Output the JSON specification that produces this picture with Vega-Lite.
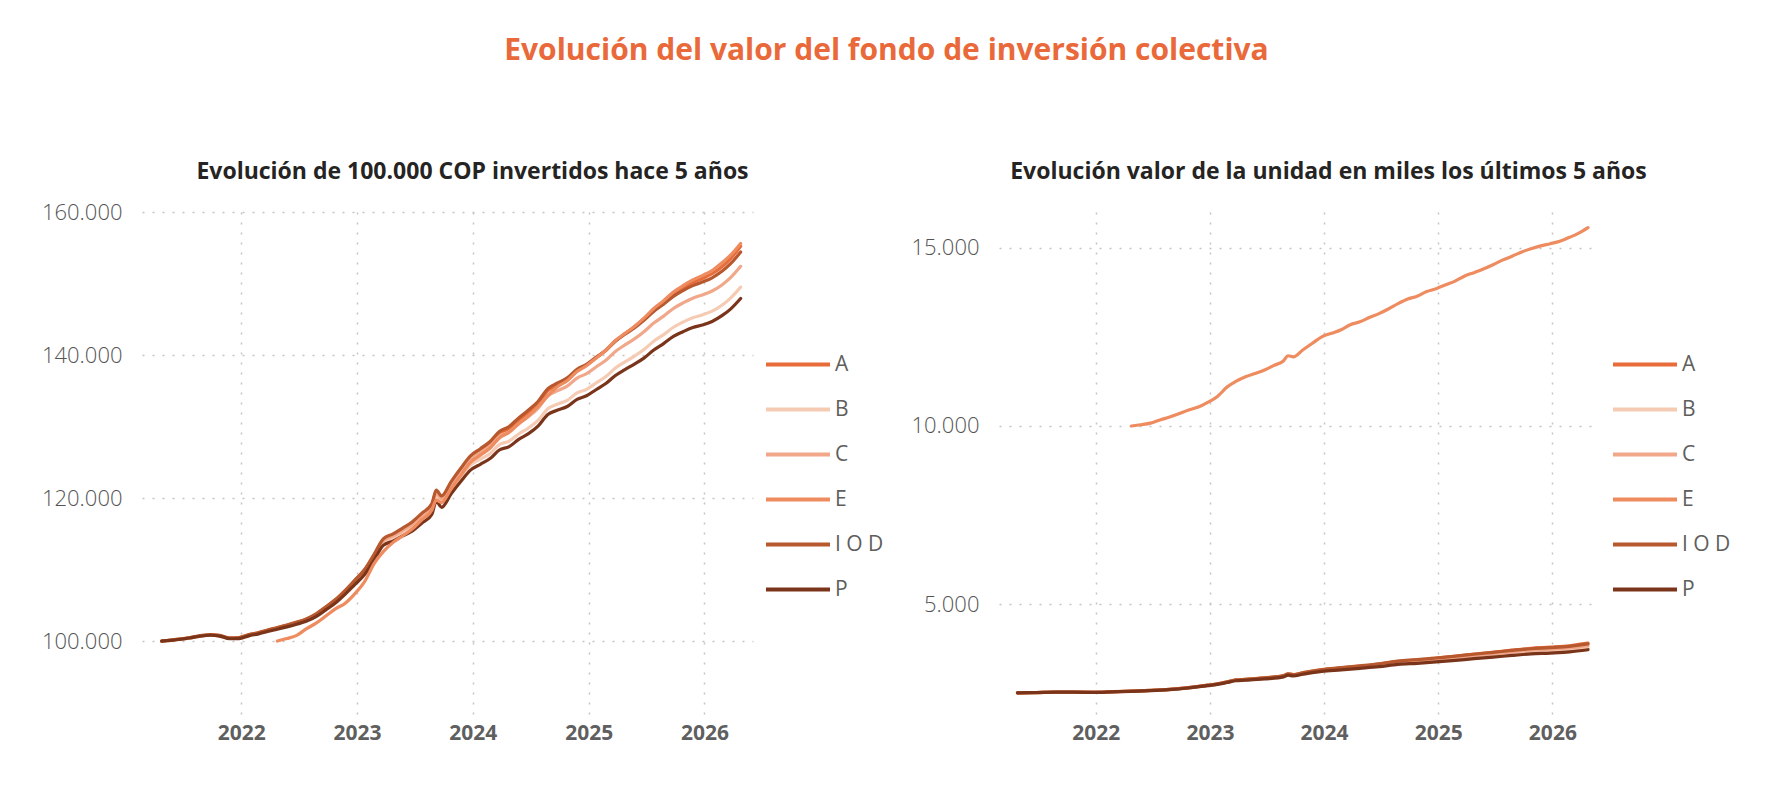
{
  "$schema": "https://vega.github.io/schema/vega-lite/v6.json",
  "autosize": {"type": "pad"},
  "padding": {"left": 0, "top": 36, "right": 20, "bottom": 40},
  "background": "white",
  "title": {"text": "Evolución del valor del fondo de inversión colectiva", "anchor": "middle", "frame": "bounds", "fontSize": 30, "fontWeight": "bold", "color": "#E9693A", "offset": 95, "dx": 21},
  "datasets": {
    "norm": [
      {"d": "2021-04-25", "A": 100000, "B": 100000, "C": 100000, "I O D": 100000, "P": 100000},
      {"d": "2021-05-25", "A": 100100, "B": 100150, "C": 100150, "I O D": 100150, "P": 100100},
      {"d": "2021-06-25", "A": 100250, "B": 100250, "C": 100300, "I O D": 100300, "P": 100250},
      {"d": "2021-07-25", "A": 100450, "B": 100450, "C": 100500, "I O D": 100500, "P": 100450},
      {"d": "2021-08-25", "A": 100700, "B": 100700, "C": 100720, "I O D": 100750, "P": 100680},
      {"d": "2021-09-25", "A": 100850, "B": 100840, "C": 100870, "I O D": 100900, "P": 100810},
      {"d": "2021-10-25", "A": 100750, "B": 100730, "C": 100770, "I O D": 100800, "P": 100690},
      {"d": "2021-11-25", "A": 100400, "B": 100370, "C": 100410, "I O D": 100450, "P": 100320},
      {"d": "2021-12-25", "A": 100450, "B": 100400, "C": 100450, "I O D": 100500, "P": 100350},
      {"d": "2022-01-25", "A": 100850, "B": 100800, "C": 100850, "I O D": 100900, "P": 100730},
      {"d": "2022-02-25", "A": 101150, "B": 101090, "C": 101140, "I O D": 101200, "P": 101010},
      {"d": "2022-03-25", "A": 101500, "B": 101430, "C": 101480, "I O D": 101550, "P": 101330},
      {"d": "2022-04-25", "A": 101850, "B": 101770, "C": 101820, "E": 100000, "I O D": 101900, "P": 101650},
      {"d": "2022-05-25", "A": 102200, "B": 102110, "C": 102160, "E": 100350, "I O D": 102250, "P": 101980},
      {"d": "2022-06-25", "A": 102600, "B": 102500, "C": 102550, "E": 100800, "I O D": 102650, "P": 102350},
      {"d": "2022-07-25", "A": 103050, "B": 102930, "C": 102990, "E": 101700, "I O D": 103100, "P": 102760},
      {"d": "2022-08-25", "A": 103750, "B": 103600, "C": 103670, "E": 102500, "I O D": 103800, "P": 103410},
      {"d": "2022-09-25", "A": 104750, "B": 104580, "C": 104650, "E": 103500, "I O D": 104800, "P": 104360},
      {"d": "2022-10-25", "A": 105750, "B": 105550, "C": 105640, "E": 104500, "I O D": 105800, "P": 105310},
      {"d": "2022-11-25", "A": 107050, "B": 106830, "C": 106920, "E": 105300, "I O D": 107100, "P": 106560},
      {"d": "2022-12-25", "A": 108450, "B": 108200, "C": 108300, "E": 106600, "I O D": 108500, "P": 107900},
      {"d": "2023-01-25", "A": 109930, "B": 109630, "C": 109780, "E": 108300, "I O D": 110000, "P": 109300},
      {"d": "2023-02-25", "A": 112100, "B": 111750, "C": 111960, "E": 110900, "I O D": 112200, "P": 111400},
      {"d": "2023-03-25", "A": 114180, "B": 113760, "C": 114030, "E": 112500, "I O D": 114300, "P": 113380},
      {"d": "2023-04-25", "A": 114870, "B": 114370, "C": 114710, "E": 113800, "I O D": 115000, "P": 113980},
      {"d": "2023-05-25", "A": 115660, "B": 115100, "C": 115490, "E": 114700, "I O D": 115800, "P": 114700},
      {"d": "2023-06-25", "A": 116500, "B": 115900, "C": 116350, "E": 115700, "I O D": 116700, "P": 115400},
      {"d": "2023-07-25", "A": 117690, "B": 117030, "C": 117530, "E": 117000, "I O D": 117900, "P": 116500},
      {"d": "2023-08-25", "A": 118980, "B": 118250, "C": 118810, "E": 118300, "I O D": 119200, "P": 117700},
      {"d": "2023-09-08", "A": 120870, "B": 120120, "C": 120700, "E": 119700, "I O D": 121100, "P": 119550},
      {"d": "2023-09-25", "A": 120060, "B": 119280, "C": 119890, "E": 119400, "I O D": 120300, "P": 118700},
      {"d": "2023-10-25", "A": 122050, "B": 121200, "C": 121860, "E": 121300, "I O D": 122300, "P": 120600},
      {"d": "2023-11-25", "A": 123930, "B": 123030, "C": 123740, "E": 123200, "I O D": 124200, "P": 122350},
      {"d": "2023-12-25", "A": 125600, "B": 124600, "C": 125400, "E": 125000, "I O D": 125900, "P": 123900},
      {"d": "2024-01-25", "A": 126600, "B": 125430, "C": 126340, "E": 126000, "I O D": 126900, "P": 124720},
      {"d": "2024-02-25", "A": 127600, "B": 126240, "C": 127280, "E": 127000, "I O D": 127900, "P": 125520},
      {"d": "2024-03-25", "A": 129000, "B": 127460, "C": 128620, "E": 128400, "I O D": 129300, "P": 126720},
      {"d": "2024-04-25", "A": 129700, "B": 127970, "C": 129260, "E": 129200, "I O D": 130000, "P": 127190},
      {"d": "2024-05-25", "A": 130900, "B": 128950, "C": 130380, "E": 130400, "I O D": 131200, "P": 128200},
      {"d": "2024-06-25", "A": 132000, "B": 129800, "C": 131400, "E": 131500, "I O D": 132300, "P": 129000},
      {"d": "2024-07-25", "A": 133200, "B": 130860, "C": 132540, "E": 132800, "I O D": 133500, "P": 130050},
      {"d": "2024-08-25", "A": 135000, "B": 132500, "C": 134280, "E": 134300, "I O D": 135300, "P": 131680},
      {"d": "2024-09-25", "A": 135770, "B": 133140, "C": 135020, "E": 135600, "I O D": 136100, "P": 132300},
      {"d": "2024-10-25", "A": 136510, "B": 133660, "C": 135650, "E": 136400, "I O D": 136800, "P": 132800},
      {"d": "2024-11-25", "A": 137800, "B": 134700, "C": 136780, "E": 137700, "I O D": 138000, "P": 133800},
      {"d": "2024-12-25", "A": 138600, "B": 135200, "C": 137400, "E": 138500, "I O D": 138700, "P": 134300},
      {"d": "2025-01-25", "A": 139640, "B": 136120, "C": 138360, "E": 139600, "I O D": 139700, "P": 135180},
      {"d": "2025-02-25", "A": 140690, "B": 137030, "C": 139310, "E": 140700, "I O D": 140700, "P": 136040},
      {"d": "2025-03-25", "A": 141940, "B": 138140, "C": 140460, "E": 142000, "I O D": 141900, "P": 137100},
      {"d": "2025-04-25", "A": 142990, "B": 139040, "C": 141410, "E": 143000, "I O D": 142900, "P": 137960},
      {"d": "2025-05-25", "A": 143940, "B": 139850, "C": 142260, "E": 144000, "I O D": 143800, "P": 138730},
      {"d": "2025-06-25", "A": 145100, "B": 140800, "C": 143300, "E": 145200, "I O D": 144900, "P": 139600},
      {"d": "2025-07-25", "A": 146340, "B": 141930, "C": 144470, "E": 146500, "I O D": 146100, "P": 140700},
      {"d": "2025-08-25", "A": 147390, "B": 142850, "C": 145440, "E": 147600, "I O D": 147100, "P": 141600},
      {"d": "2025-09-25", "A": 148540, "B": 143880, "C": 146510, "E": 148800, "I O D": 148200, "P": 142600},
      {"d": "2025-10-25", "A": 149390, "B": 144600, "C": 147280, "E": 149700, "I O D": 149000, "P": 143250},
      {"d": "2025-11-25", "A": 150140, "B": 145200, "C": 147950, "E": 150500, "I O D": 149700, "P": 143850},
      {"d": "2025-12-25", "A": 150700, "B": 145600, "C": 148400, "E": 151100, "I O D": 150200, "P": 144200},
      {"d": "2026-01-25", "A": 151370, "B": 146130, "C": 148950, "E": 151800, "I O D": 150800, "P": 144690},
      {"d": "2026-02-25", "A": 152340, "B": 146960, "C": 149800, "E": 152900, "I O D": 151700, "P": 145500},
      {"d": "2026-03-25", "A": 153510, "B": 148000, "C": 150850, "E": 154000, "I O D": 152800, "P": 146460},
      {"d": "2026-04-25", "A": 155200, "B": 149500, "C": 152400, "E": 155600, "I O D": 154400, "P": 147900}
    ],
    "unit": [
      {"d": "2021-04-25", "A": 2520, "B": 2520, "C": 2520, "I O D": 2520, "P": 2520},
      {"d": "2021-06-25", "A": 2526, "B": 2526, "C": 2528, "I O D": 2528, "P": 2526},
      {"d": "2021-08-25", "A": 2538, "B": 2538, "C": 2538, "I O D": 2539, "P": 2537},
      {"d": "2021-10-25", "A": 2539, "B": 2538, "C": 2539, "I O D": 2540, "P": 2537},
      {"d": "2021-12-25", "A": 2531, "B": 2530, "C": 2531, "I O D": 2533, "P": 2529},
      {"d": "2022-02-25", "A": 2549, "B": 2548, "C": 2549, "I O D": 2550, "P": 2546},
      {"d": "2022-04-25", "A": 2567, "B": 2565, "C": 2566, "E": 10000, "I O D": 2568, "P": 2562},
      {"d": "2022-05-25", "E": 10035},
      {"d": "2022-06-25", "A": 2586, "B": 2583, "C": 2584, "E": 10080, "I O D": 2587, "P": 2579},
      {"d": "2022-07-25", "E": 10170},
      {"d": "2022-08-25", "A": 2615, "B": 2611, "C": 2613, "E": 10250, "I O D": 2616, "P": 2606},
      {"d": "2022-09-25", "E": 10350},
      {"d": "2022-10-25", "A": 2665, "B": 2660, "C": 2662, "E": 10450, "I O D": 2666, "P": 2654},
      {"d": "2022-11-25", "E": 10530},
      {"d": "2022-12-25", "A": 2733, "B": 2727, "C": 2729, "E": 10660, "I O D": 2734, "P": 2719},
      {"d": "2023-01-25", "A": 2770, "B": 2763, "C": 2767, "E": 10830, "I O D": 2772, "P": 2754},
      {"d": "2023-02-25", "A": 2825, "B": 2816, "C": 2821, "E": 11090, "I O D": 2827, "P": 2807},
      {"d": "2023-03-25", "A": 2877, "B": 2867, "C": 2874, "E": 11250, "I O D": 2880, "P": 2857},
      {"d": "2023-04-25", "A": 2895, "B": 2882, "C": 2891, "E": 11380, "I O D": 2898, "P": 2872},
      {"d": "2023-05-25", "E": 11470},
      {"d": "2023-06-25", "A": 2936, "B": 2921, "C": 2932, "E": 11570, "I O D": 2941, "P": 2908},
      {"d": "2023-07-25", "E": 11700},
      {"d": "2023-08-25", "A": 2998, "B": 2980, "C": 2994, "E": 11830, "I O D": 3004, "P": 2966},
      {"d": "2023-09-08", "A": 3046, "B": 3027, "C": 3042, "E": 11970, "I O D": 3052, "P": 3013},
      {"d": "2023-09-25", "A": 3026, "B": 3006, "C": 3021, "E": 11940, "I O D": 3032, "P": 2991},
      {"d": "2023-10-25", "A": 3076, "B": 3054, "C": 3071, "E": 12130, "I O D": 3082, "P": 3039},
      {"d": "2023-11-25", "E": 12320},
      {"d": "2023-12-25", "A": 3165, "B": 3140, "C": 3160, "E": 12500, "I O D": 3173, "P": 3122},
      {"d": "2024-01-25", "E": 12600},
      {"d": "2024-02-25", "A": 3216, "B": 3181, "C": 3208, "E": 12700, "I O D": 3223, "P": 3163},
      {"d": "2024-03-25", "E": 12840},
      {"d": "2024-04-25", "A": 3268, "B": 3225, "C": 3257, "E": 12920, "I O D": 3276, "P": 3205},
      {"d": "2024-05-25", "E": 13040},
      {"d": "2024-06-25", "A": 3326, "B": 3271, "C": 3311, "E": 13150, "I O D": 3334, "P": 3251},
      {"d": "2024-07-25", "E": 13280},
      {"d": "2024-08-25", "A": 3402, "B": 3339, "C": 3384, "E": 13430, "I O D": 3410, "P": 3318},
      {"d": "2024-09-25", "E": 13560},
      {"d": "2024-10-25", "A": 3440, "B": 3368, "C": 3418, "E": 13640, "I O D": 3447, "P": 3347},
      {"d": "2024-11-25", "E": 13770},
      {"d": "2024-12-25", "A": 3493, "B": 3407, "C": 3463, "E": 13850, "I O D": 3495, "P": 3384},
      {"d": "2025-01-25", "E": 13960},
      {"d": "2025-02-25", "A": 3545, "B": 3453, "C": 3511, "E": 14070, "I O D": 3546, "P": 3428},
      {"d": "2025-03-25", "E": 14200},
      {"d": "2025-04-25", "A": 3603, "B": 3504, "C": 3564, "E": 14300, "I O D": 3601, "P": 3477},
      {"d": "2025-05-25", "E": 14400},
      {"d": "2025-06-25", "A": 3657, "B": 3548, "C": 3611, "E": 14520, "I O D": 3652, "P": 3518},
      {"d": "2025-07-25", "E": 14650},
      {"d": "2025-08-25", "A": 3714, "B": 3600, "C": 3665, "E": 14760, "I O D": 3707, "P": 3568},
      {"d": "2025-09-25", "E": 14880},
      {"d": "2025-10-25", "A": 3765, "B": 3644, "C": 3712, "E": 14970, "I O D": 3755, "P": 3610},
      {"d": "2025-11-25", "E": 15050},
      {"d": "2025-12-25", "A": 3798, "B": 3669, "C": 3740, "E": 15110, "I O D": 3785, "P": 3634},
      {"d": "2026-01-25", "E": 15180},
      {"d": "2026-02-25", "A": 3839, "B": 3703, "C": 3775, "E": 15290, "I O D": 3823, "P": 3667},
      {"d": "2026-03-25", "E": 15400},
      {"d": "2026-04-25", "A": 3911, "B": 3767, "C": 3841, "E": 15560, "I O D": 3891, "P": 3727}
    ]
  },
  "bounds": "flush",
  "spacing": 246,
  "resolve": {"scale": {"x": "independent", "y": "independent", "color": "independent"}, "legend": {"color": "independent"}},
  "hconcat": [
    {
      "width": 611,
      "height": 502,
      "title": {"text": "Evolución de 100.000 COP invertidos hace 5 años", "frame": "group", "anchor": "middle", "dx": 25, "offset": 17},
      "data": {"name": "norm"},
      "transform": [{"fold": ["A", "B", "C", "E", "I O D", "P"], "as": ["serie", "valor"]}, {"filter": "isValid(datum.valor)"}],
      "mark": {"type": "line", "strokeWidth": 3.2, "interpolate": "monotone", "strokeCap": "round"},
      "encoding": {
        "x": {"field": "d", "type": "temporal",
          "scale": {"domain": [{"year": 2021, "month": 2, "date": 22}, {"year": 2026, "month": 6, "date": 3}]},
          "axis": {"format": "%Y", "tickCount": {"interval": "year", "step": 1}, "labelFontSize": 21, "labelFontWeight": "bold", "labelColor": "#5f5f5f", "labelPadding": 8}},
        "y": {"field": "valor", "type": "quantitative",
          "scale": {"domain": [89800, 160000], "nice": false, "zero": false},
          "axis": {"values": [100000, 120000, 140000, 160000], "format": ",.0f", "labelFontSize": 22, "labelFontWeight": 300, "labelColor": "#555555", "labelPadding": 20, "minExtent": 142, "maxExtent": 142}},
        "color": {"field": "serie", "type": "nominal",
          "scale": {"domain": ["A", "B", "C", "E", "I O D", "P"], "range": ["#E86C3A", "#F6CBB4", "#F1A88A", "#EE8B5F", "#B8582E", "#7A341A"]},
          "legend": {"orient": "none", "legendX": 622, "legendY": 130}}
      }
    },
    {
      "width": 599,
      "height": 502,
      "title": {"text": "Evolución valor de la unidad en miles los últimos 5 años", "frame": "group", "anchor": "middle", "dx": 30, "offset": 28},
      "data": {"name": "unit"},
      "transform": [{"fold": ["A", "B", "C", "E", "I O D", "P"], "as": ["serie", "valor"]}, {"filter": "isValid(datum.valor)"}],
      "mark": {"type": "line", "strokeWidth": 3.2, "interpolate": "monotone", "strokeCap": "round"},
      "encoding": {
        "x": {"field": "d", "type": "temporal",
          "scale": {"domain": [{"year": 2021, "month": 2, "date": 25}, {"year": 2026, "month": 5, "date": 27}]},
          "axis": {"format": "%Y", "tickCount": {"interval": "year", "step": 1}, "labelFontSize": 21, "labelFontWeight": "bold", "labelColor": "#5f5f5f", "labelPadding": 8}},
        "y": {"field": "valor", "type": "quantitative",
          "scale": {"domain": [1925, 16000], "nice": false, "zero": false},
          "axis": {"values": [5000, 10000, 15000], "format": ",.0f", "labelFontSize": 22, "labelFontWeight": 300, "labelColor": "#555555", "labelPadding": 20}},
        "color": {"field": "serie", "type": "nominal",
          "scale": {"domain": ["A", "B", "C", "E", "I O D", "P"], "range": ["#E86C3A", "#F6CBB4", "#F1A88A", "#EE8B5F", "#B8582E", "#7A341A"]},
          "legend": {"orient": "none", "legendX": 612, "legendY": 130}}
      }
    }
  ],
  "config": {
    "font": "Open Sans",
    "view": {"stroke": null},
    "locale": {"number": {"decimal": ",", "thousands": ".", "grouping": [3], "currency": ["$", ""]}},
    "axis": {"domain": false, "ticks": false, "grid": true, "gridColor": "#c4c4c4", "gridDash": [2, 8], "gridWidth": 1.5, "title": null, "labelFont": "Open Sans"},
    "legend": {"title": null, "symbolType": "stroke", "symbolSize": 4096, "symbolStrokeWidth": 4, "labelFontSize": 21, "labelColor": "#605E5C", "labelFont": "Open Sans", "labelOffset": 3, "rowPadding": 0, "clipHeight": 45, "padding": 0},
    "title": {"font": "Open Sans", "fontWeight": "bold", "color": "#252423", "fontSize": 23, "baseline": "bottom"}
  }
}
